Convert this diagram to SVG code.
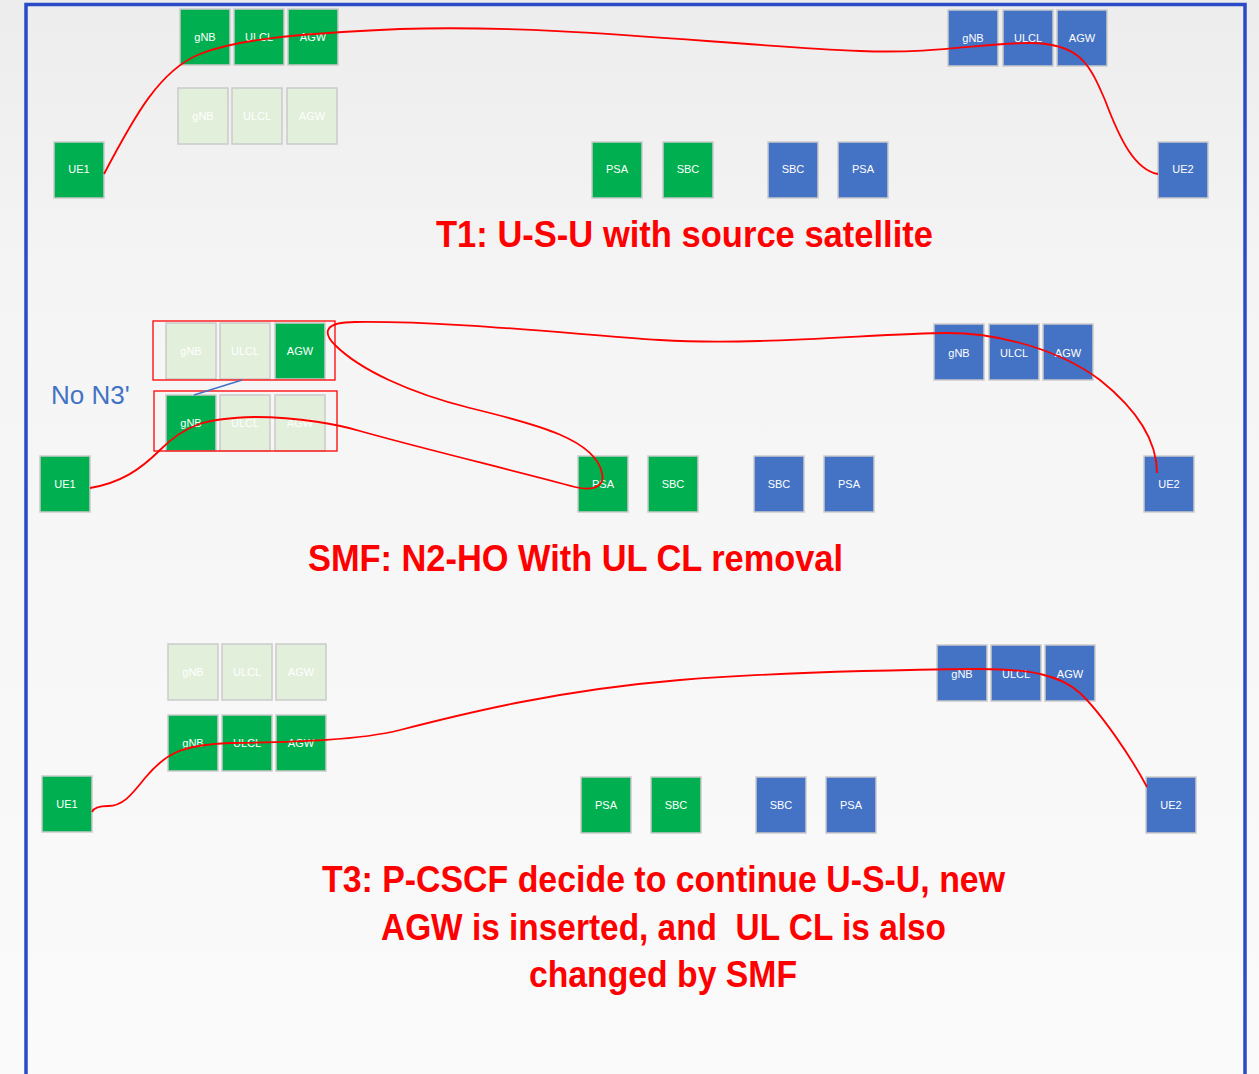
<svg xmlns="http://www.w3.org/2000/svg" width="1259" height="1074" viewBox="0 0 1259 1074">
<defs>
<linearGradient id="bg" x1="0" y1="0" x2="0" y2="1">
<stop offset="0" stop-color="#EDEDED"/>
<stop offset="0.3" stop-color="#F5F5F5"/>
<stop offset="1" stop-color="#FAFAFA"/>
</linearGradient>
<style>
.g{fill:#00B050;stroke:#CACACA;stroke-width:1.5}
.b{fill:#4472C4;stroke:#CACACA;stroke-width:1.5}
.l{fill:#E2EFDA;stroke:#CACACA;stroke-width:1.5}
.t{font-family:"Liberation Sans",Arial,sans-serif;font-size:11px;fill:#FFFFFF;text-anchor:middle}
.title{font-family:"Liberation Sans",Arial,sans-serif;font-weight:bold;font-size:36px;fill:#FF0000;text-anchor:middle}
.conn{fill:none;stroke:#FF0000;stroke-width:1.8}
.frame{fill:none;stroke:#FF0000;stroke-width:1.3}
</style>
</defs>
<rect x="0" y="0" width="1259" height="1074" fill="url(#bg)"/>
<rect x="26" y="4.5" width="1219" height="1100" fill="none" stroke="#2B4AC8" stroke-width="3.5"/>

<!-- T1 section -->
<g id="t1-gnb"><rect class="g" x="180" y="9" width="50" height="56"/><text class="t" x="205" y="41">gNB</text></g>
<g id="t1-ulcl"><rect class="g" x="234" y="9" width="50" height="56"/><text class="t" x="259" y="41">ULCL</text></g>
<g id="t1-agw"><rect class="g" x="288" y="9" width="50" height="56"/><text class="t" x="313" y="41">AGW</text></g>
<g id="t1-gnb-old"><rect class="l" x="178" y="88" width="50" height="56"/><text class="t" x="203" y="120">gNB</text></g>
<g id="t1-ulcl-old"><rect class="l" x="232" y="88" width="50" height="56"/><text class="t" x="257" y="120">ULCL</text></g>
<g id="t1-agw-old"><rect class="l" x="287" y="88" width="50" height="56"/><text class="t" x="312" y="120">AGW</text></g>
<g id="t1-ue1"><rect class="g" x="54" y="142" width="50" height="56"/><text class="t" x="79" y="173">UE1</text></g>
<g id="t1-psa-g"><rect class="g" x="592" y="142" width="50" height="56"/><text class="t" x="617" y="173">PSA</text></g>
<g id="t1-sbc-g"><rect class="g" x="663" y="142" width="50" height="56"/><text class="t" x="688" y="173">SBC</text></g>
<g id="t1-sbc-b"><rect class="b" x="768" y="142" width="50" height="56"/><text class="t" x="793" y="173">SBC</text></g>
<g id="t1-psa-b"><rect class="b" x="838" y="142" width="50" height="56"/><text class="t" x="863" y="173">PSA</text></g>
<g id="t1-gnb-b"><rect class="b" x="948" y="10" width="50" height="56"/><text class="t" x="973" y="42">gNB</text></g>
<g id="t1-ulcl-b"><rect class="b" x="1003" y="10" width="50" height="56"/><text class="t" x="1028" y="42">ULCL</text></g>
<g id="t1-agw-b"><rect class="b" x="1057" y="10" width="50" height="56"/><text class="t" x="1082" y="42">AGW</text></g>
<g id="t1-ue2"><rect class="b" x="1158" y="142" width="50" height="56"/><text class="t" x="1183" y="173">UE2</text></g>
<text class="title" x="684.5" y="247" textLength="497" lengthAdjust="spacingAndGlyphs">T1: U-S-U with source satellite</text>

<!-- SMF section -->
<g id="t2-gnb-old"><rect class="l" x="166" y="323" width="50" height="56"/><text class="t" x="191" y="355">gNB</text></g>
<g id="t2-ulcl-old"><rect class="l" x="220" y="323" width="50" height="56"/><text class="t" x="245" y="355">ULCL</text></g>
<g id="t2-agw"><rect class="g" x="275" y="323" width="50" height="56"/><text class="t" x="300" y="355">AGW</text></g>
<g id="t2-gnb"><rect class="g" x="166" y="395" width="50" height="56"/><text class="t" x="191" y="427">gNB</text></g>
<g id="t2-ulcl-new"><rect class="l" x="220" y="395" width="50" height="56"/><text class="t" x="245" y="427">ULCL</text></g>
<g id="t2-agw-new"><rect class="l" x="275" y="395" width="50" height="56"/><text class="t" x="300" y="427">AGW</text></g>
<g id="t2-ue1"><rect class="g" x="40" y="456" width="50" height="56"/><text class="t" x="65" y="488">UE1</text></g>
<g id="t2-psa-g"><rect class="g" x="578" y="456" width="50" height="56"/><text class="t" x="603" y="488">PSA</text></g>
<g id="t2-sbc-g"><rect class="g" x="648" y="456" width="50" height="56"/><text class="t" x="673" y="488">SBC</text></g>
<g id="t2-sbc-b"><rect class="b" x="754" y="456" width="50" height="56"/><text class="t" x="779" y="488">SBC</text></g>
<g id="t2-psa-b"><rect class="b" x="824" y="456" width="50" height="56"/><text class="t" x="849" y="488">PSA</text></g>
<g id="t2-gnb-b"><rect class="b" x="934" y="324" width="50" height="56"/><text class="t" x="959" y="357">gNB</text></g>
<g id="t2-ulcl-b"><rect class="b" x="989" y="324" width="50" height="56"/><text class="t" x="1014" y="357">ULCL</text></g>
<g id="t2-agw-b"><rect class="b" x="1043" y="324" width="50" height="56"/><text class="t" x="1068" y="357">AGW</text></g>
<g id="t2-ue2"><rect class="b" x="1144" y="456" width="50" height="56"/><text class="t" x="1169" y="488">UE2</text></g>
<g id="t2-groups">
<rect class="frame" x="153" y="321" width="182" height="59"/>
<rect class="frame" x="154" y="391" width="183" height="60"/>
</g>
<text x="51" y="404" font-family="Liberation Sans, Arial, sans-serif" font-size="26" fill="#4472C4">No N3'</text>
<text class="title" x="575.5" y="571" textLength="535" lengthAdjust="spacingAndGlyphs">SMF: N2-HO With UL CL removal</text>

<!-- T3 section -->
<g id="t3-gnb-old"><rect class="l" x="168" y="644" width="50" height="56"/><text class="t" x="193" y="676">gNB</text></g>
<g id="t3-ulcl-old"><rect class="l" x="222" y="644" width="50" height="56"/><text class="t" x="247" y="676">ULCL</text></g>
<g id="t3-agw-old"><rect class="l" x="276" y="644" width="50" height="56"/><text class="t" x="301" y="676">AGW</text></g>
<g id="t3-gnb"><rect class="g" x="168" y="715" width="50" height="56"/><text class="t" x="193" y="747">gNB</text></g>
<g id="t3-ulcl"><rect class="g" x="222" y="715" width="50" height="56"/><text class="t" x="247" y="747">ULCL</text></g>
<g id="t3-agw"><rect class="g" x="276" y="715" width="50" height="56"/><text class="t" x="301" y="747">AGW</text></g>
<g id="t3-ue1"><rect class="g" x="42" y="776" width="50" height="56"/><text class="t" x="67" y="808">UE1</text></g>
<g id="t3-psa-g"><rect class="g" x="581" y="777" width="50" height="56"/><text class="t" x="606" y="809">PSA</text></g>
<g id="t3-sbc-g"><rect class="g" x="651" y="777" width="50" height="56"/><text class="t" x="676" y="809">SBC</text></g>
<g id="t3-sbc-b"><rect class="b" x="756" y="777" width="50" height="56"/><text class="t" x="781" y="809">SBC</text></g>
<g id="t3-psa-b"><rect class="b" x="826" y="777" width="50" height="56"/><text class="t" x="851" y="809">PSA</text></g>
<g id="t3-gnb-b"><rect class="b" x="937" y="645" width="50" height="56"/><text class="t" x="962" y="678">gNB</text></g>
<g id="t3-ulcl-b"><rect class="b" x="991" y="645" width="50" height="56"/><text class="t" x="1016" y="678">ULCL</text></g>
<g id="t3-agw-b"><rect class="b" x="1045" y="645" width="50" height="56"/><text class="t" x="1070" y="678">AGW</text></g>
<g id="t3-ue2"><rect class="b" x="1146" y="777" width="50" height="56"/><text class="t" x="1171" y="809">UE2</text></g>
<text class="title" x="663.5" y="892" textLength="683" lengthAdjust="spacingAndGlyphs">T3: P-CSCF decide to continue U-S-U, new</text>
<text class="title" x="663.5" y="940" textLength="565" lengthAdjust="spacingAndGlyphs" style="white-space:pre">AGW is inserted, and  UL CL is also</text>
<text class="title" x="663" y="987" textLength="268" lengthAdjust="spacingAndGlyphs">changed by SMF</text>

<!-- connectors -->
<g id="connectors">
<path class="conn" d="M104,174 C135,115 160,70 200,54 C235,40 290,34 400,29 C560,24 720,45 860,51 C940,54 980,43 1030,43 C1080,43 1090,65 1105,100 C1120,140 1135,170 1158,174"/>
<path class="conn" d="M90,488 C120,483 140,470 160,450 C185,425 205,418 255,417 C300,417 340,425 360,431 C420,448 520,472 575,487 C595,492 605,485 602,473 C595,440 540,425 470,408 C410,393 360,370 335,345 C322,332 325,322 355,322 C450,321 560,333 660,340 C760,346 880,333 947,333 C1000,333 1060,350 1100,380 C1135,408 1157,440 1157,473"/>
<path class="conn" d="M92,812 C94,807 100,806 108,806 C122,806 130,797 145,778 C165,754 180,745 230,743 C300,742 360,740 400,730 C470,712 560,690 680,680 C780,672 880,670 980,669 C1030,669 1060,675 1080,693 C1100,712 1130,755 1147,787"/>
<line x1="194" y1="395" x2="242" y2="380" stroke="#4472C4" stroke-width="1.5"/>
</g>
</svg>
